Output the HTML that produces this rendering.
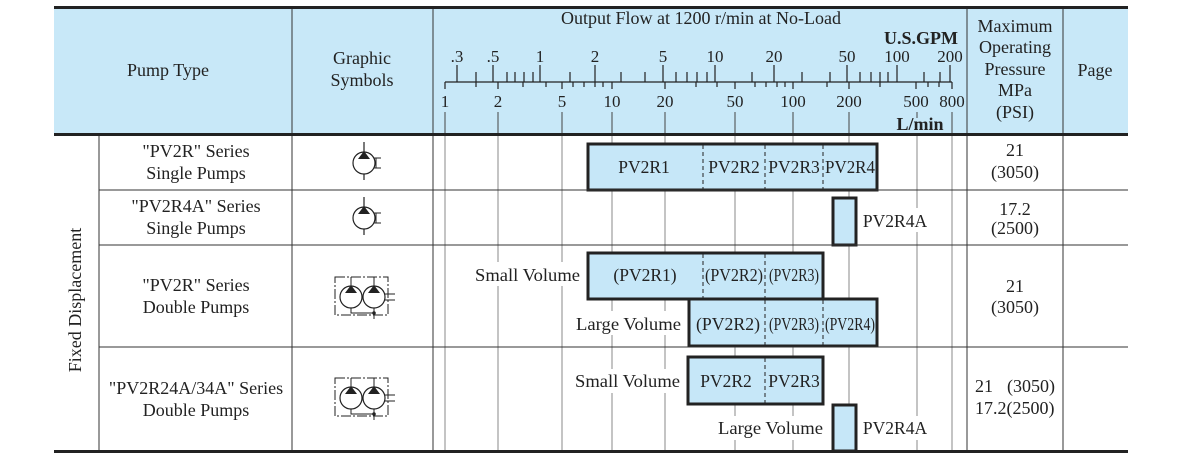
<!DOCTYPE html>
<html><head><meta charset="utf-8"><style>
html,body{margin:0;padding:0;background:#fff}
svg{display:block}
text{font-family:"Liberation Serif",serif;fill:#222}
</style></head><body>
<svg width="1188" height="458" viewBox="0 0 1188 458" xmlns="http://www.w3.org/2000/svg">
<defs>
<g id="sp">
 <circle cx="0" cy="0" r="11" fill="none" stroke="#222" stroke-width="1.2"/>
 <line x1="0" y1="-21" x2="0" y2="-11" stroke="#222" stroke-width="1.2"/>
 <line x1="0" y1="11" x2="0" y2="17" stroke="#222" stroke-width="1.2"/>
 <polygon points="0,-12 -6,-4 6,-4" fill="#222"/>
 <path d="M10,-5 H17 M10,5 H17 M12,-5 V5" stroke="#222" stroke-width="1" fill="none"/>
</g>
<g id="dp">
 <rect x="-27" y="-20" width="53" height="38" fill="none" stroke="#222" stroke-width="1" stroke-dasharray="10,2,2,2"/>
 <circle cx="-11" cy="0" r="11" fill="none" stroke="#222" stroke-width="1.2"/>
 <circle cx="12" cy="0" r="11" fill="none" stroke="#222" stroke-width="1.2"/>
 <polygon points="-11,-12 -17,-4 -5,-4" fill="#222"/>
 <polygon points="12,-12 6,-4 18,-4" fill="#222"/>
 <line x1="-11" y1="-20" x2="-11" y2="-11" stroke="#222"/>
 <line x1="12" y1="-20" x2="12" y2="-11" stroke="#222"/>
 <path d="M-11,11 V16 H12 M12,11 V22" stroke="#222" fill="none"/>
 <circle cx="12" cy="16" r="1.8" fill="#222"/>
 <path d="M23,-3 H33 M23,3 H33" stroke="#222" fill="none"/>
</g>
</defs>
<rect x="54" y="8" width="1074" height="126" fill="#c8e8f8"/>
<g stroke="#888" stroke-width="1">
 <line x1="445" y1="134" x2="445" y2="451"/>
 <line x1="498" y1="134" x2="498" y2="451"/>
 <line x1="562" y1="134" x2="562" y2="451"/>
 <line x1="612" y1="134" x2="612" y2="451"/>
 <line x1="665" y1="134" x2="665" y2="451"/>
 <line x1="735" y1="134" x2="735" y2="451"/>
 <line x1="793" y1="134" x2="793" y2="451"/>
 <line x1="849" y1="134" x2="849" y2="451"/>
 <line x1="917" y1="134" x2="917" y2="451"/>
 <line x1="952" y1="134" x2="952" y2="451"/>
</g>
<g stroke="#444" stroke-width="1">
 <line x1="445" y1="112" x2="445" y2="134"/>
 <line x1="498" y1="112" x2="498" y2="134"/>
 <line x1="562" y1="112" x2="562" y2="134"/>
 <line x1="612" y1="112" x2="612" y2="134"/>
 <line x1="665" y1="112" x2="665" y2="134"/>
 <line x1="735" y1="112" x2="735" y2="134"/>
 <line x1="793" y1="112" x2="793" y2="134"/>
 <line x1="849" y1="112" x2="849" y2="134"/>
 <line x1="917" y1="112" x2="917" y2="118"/>
 <line x1="952" y1="112" x2="952" y2="134"/>
</g>
<g stroke="#222" stroke-width="1.2">
 <line x1="445" y1="82" x2="952" y2="82"/>
 <path d="M457,65V82 M493,65V82 M540,65V82 M595,65V82 M663,65V82 M715,65V82 M774,65V82 M847,65V82 M897,65V82 M950,65V82"/>
 <path d="M476,72V82 M507,72V82 M515,72V82 M524,72V82 M533,72V82 M570,72V82 M621,72V82 M645,72V82 M676,72V82 M687,72V82 M697,72V82 M707,72V82 M752,72V82 M802,72V82 M830,72V82 M860,72V82 M871,72V82 M880,72V82 M888,72V82 M924,72V82 M940,72V82"/>
 <path d="M445,82V89 M498,82V89 M562,82V89 M612,82V89 M665,82V89 M735,82V89 M793,82V89 M849,82V89 M916,82V89 M952,82V89"/>
 <path d="M476,82V87 M523,82V87 M546,82V87 M573,82V87 M584,82V87 M595,82V87 M603,82V87 M696,82V87 M717,82V87 M755,82V87 M766,82V87 M777,82V87 M785,82V87 M827,82V87 M880,82V87 M928,82V87 M939,82V87"/>
</g>
<g font-size="17" text-anchor="middle">
 <text x="457" y="62">.3</text><text x="493" y="62">.5</text><text x="540" y="62">1</text><text x="595" y="62">2</text><text x="663" y="62">5</text><text x="715" y="62">10</text><text x="774" y="62">20</text><text x="847" y="62">50</text><text x="897" y="62">100</text><text x="950" y="62">200</text>
 <text x="445" y="107">1</text><text x="498" y="107">2</text><text x="562" y="107">5</text><text x="612" y="107">10</text><text x="665" y="107">20</text><text x="735" y="107">50</text><text x="793" y="107">100</text><text x="849" y="107">200</text><text x="916" y="107">500</text><text x="952" y="107">800</text>
</g>
<g font-size="18" text-anchor="middle">
 <text x="701" y="24">Output Flow at 1200 r/min at No-Load</text>
 <text x="958" y="44" font-weight="bold" text-anchor="end">U.S.GPM</text>
 <text x="920" y="130" font-weight="bold">L/min</text>
 <text x="168" y="76">Pump Type</text>
 <text x="362" y="64">Graphic</text><text x="362" y="86">Symbols</text>
 <text x="1015" y="32">Maximum</text><text x="1015" y="53">Operating</text><text x="1015" y="75">Pressure</text><text x="1015" y="96">MPa</text><text x="1015" y="118">(PSI)</text>
 <text x="1095" y="76">Page</text>
</g>
<g fill="#c6e7f8" stroke="#222" stroke-width="3">
 <rect x="588" y="144" width="289" height="46"/>
 <rect x="833" y="198" width="23" height="47"/>
 <rect x="588" y="253" width="235" height="46"/>
 <rect x="689" y="299" width="188" height="47"/>
 <rect x="688" y="357" width="135" height="47"/>
 <rect x="833" y="405" width="23" height="46"/>
</g>
<g stroke="#222" stroke-width="1" stroke-dasharray="4,3">
 <path d="M703,145V189 M765,145V189 M823,145V189"/>
 <path d="M703,254V298 M765,254V298"/>
 <path d="M765,300V345 M823,300V345"/>
 <path d="M765,358V403"/>
</g>
<g fill="#fff">
 <rect x="472" y="262" width="110" height="24"/>
 <rect x="573" y="311" width="112" height="24"/>
 <rect x="572" y="369" width="112" height="24"/>
 <rect x="716" y="416" width="112" height="24"/>
 <rect x="860" y="208" width="72" height="24"/>
 <rect x="860" y="416" width="72" height="24"/>
</g>
<g font-size="17.5" text-anchor="middle">
 <text x="644" y="173">PV2R1</text>
 <text x="734" y="173">PV2R2</text>
 <text x="794" y="173">PV2R3</text>
 <text x="850" y="173" textLength="50" lengthAdjust="spacingAndGlyphs">PV2R4</text>
 <text x="895" y="227">PV2R4A</text>
 <text x="580" y="281" text-anchor="end" textLength="105" lengthAdjust="spacingAndGlyphs">Small Volume</text>
 <text x="645" y="281">(PV2R1)</text>
 <text x="734" y="281" textLength="58" lengthAdjust="spacingAndGlyphs">(PV2R2)</text>
 <text x="794" y="281" textLength="50" lengthAdjust="spacingAndGlyphs">(PV2R3)</text>
 <text x="681" y="330" text-anchor="end" textLength="105" lengthAdjust="spacingAndGlyphs">Large Volume</text>
 <text x="728" y="330" textLength="64" lengthAdjust="spacingAndGlyphs">(PV2R2)</text>
 <text x="794" y="330" textLength="50" lengthAdjust="spacingAndGlyphs">(PV2R3)</text>
 <text x="850" y="330" textLength="50" lengthAdjust="spacingAndGlyphs">(PV2R4)</text>
 <text x="680" y="387" text-anchor="end" textLength="105" lengthAdjust="spacingAndGlyphs">Small Volume</text>
 <text x="726" y="387">PV2R2</text>
 <text x="794" y="387">PV2R3</text>
 <text x="823" y="434" text-anchor="end" textLength="105" lengthAdjust="spacingAndGlyphs">Large Volume</text>
 <text x="895" y="434">PV2R4A</text>
</g>
<g font-size="18" text-anchor="middle">
 <text x="196" y="157">"PV2R" Series</text><text x="196" y="179">Single Pumps</text>
 <text x="196" y="212">"PV2R4A" Series</text><text x="196" y="234">Single Pumps</text>
 <text x="196" y="291">"PV2R" Series</text><text x="196" y="313">Double Pumps</text>
 <text x="196" y="394">"PV2R24A/34A" Series</text><text x="196" y="416">Double Pumps</text>
 <text x="1015" y="156">21</text><text x="1015" y="178">(3050)</text>
 <text x="1015" y="215">17.2</text><text x="1015" y="234">(2500)</text>
 <text x="1015" y="292">21</text><text x="1015" y="313">(3050)</text>
 <text x="975" y="392" text-anchor="start">21</text>
 <text x="1055" y="392" text-anchor="end">(3050)</text>
 <text x="975" y="414" text-anchor="start">17.2(2500)</text>
 <text transform="translate(81,300) rotate(-90)">Fixed Displacement</text>
</g>
<use href="#sp" x="364" y="163"/>
<use href="#sp" x="364" y="218"/>
<use href="#dp" x="362" y="297"/>
<use href="#dp" x="362" y="398"/>
<g stroke="#333" stroke-width="1">
 <line x1="292" y1="8" x2="292" y2="451"/>
 <line x1="433" y1="8" x2="433" y2="451"/>
 <line x1="967" y1="8" x2="967" y2="451"/>
 <line x1="1063" y1="8" x2="1063" y2="451"/>
 <line x1="99" y1="134" x2="99" y2="451"/>
 <line x1="99" y1="190" x2="1128" y2="190"/>
 <line x1="99" y1="245" x2="1128" y2="245"/>
 <line x1="99" y1="347" x2="1128" y2="347"/>
</g>
<g stroke="#222" stroke-width="3">
 <line x1="54" y1="7.5" x2="1128" y2="7.5"/>
 <line x1="54" y1="134.5" x2="1128" y2="134.5"/>
 <line x1="54" y1="451.5" x2="1128" y2="451.5"/>
</g>
</svg>
</body></html>
